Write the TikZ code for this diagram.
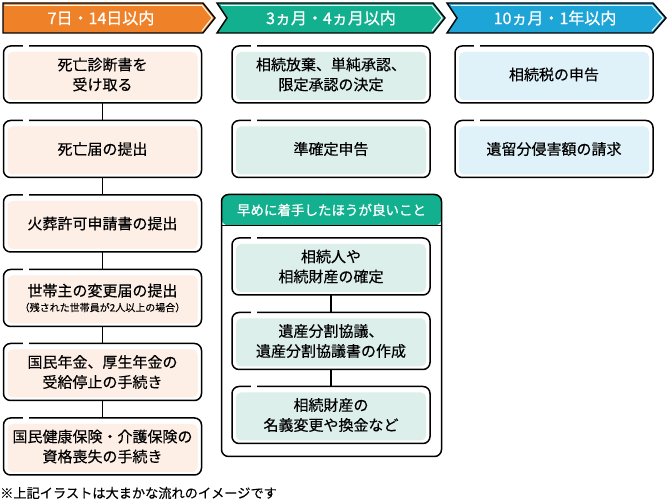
\documentclass[tikz,border=0pt]{standalone}
\usepackage{fontspec}
\setmainfont{Noto Sans CJK JP}[FakeBold=0.3]
\newfontfamily\hdfont{Noto Sans CJK JP}[FakeBold=0.9]
\definecolor{cOr}{HTML}{EF8229}
\definecolor{cGr}{HTML}{12B08F}
\definecolor{cBl}{HTML}{1DA5D8}
\definecolor{fOr}{HTML}{FDEEE6}
\definecolor{fGr}{HTML}{DCEFEA}
\definecolor{fBl}{HTML}{DFF1F9}
\tikzset{
  stepbox/.style={draw=black, line width=1.5pt, fill=white, rounded corners=7pt,
    minimum width=198pt, minimum height=57pt, text width=194pt, align=center,
    inner sep=0pt, outer sep=0pt,
    font=\fontsize{15}{20}\selectfont,
    path picture={\fill[#1, rounded corners=5pt]
      ([shift={(4pt,-6pt)}]path picture bounding box.north west) rectangle
      ([shift={(-4pt,3pt)}]path picture bounding box.south east);}},
  headtext/.style={text=white, font=\hdfont\fontsize{16}{18}\selectfont, inner sep=0pt},
  grpbox/.style={draw=black, line width=1.5pt, fill=white, rounded corners=7pt,
    minimum width=220pt, minimum height=262pt, inner sep=0pt, outer sep=0pt,
    path picture={\fill[cGr] (path picture bounding box.north west) rectangle
      ([yshift=-31pt]path picture bounding box.north east);
      \draw[line width=1.5pt] ([yshift=-31pt]path picture bounding box.north west) --
      ([yshift=-31pt]path picture bounding box.north east);}},
  conn/.style={line width=1.5pt},
  hl/.style={white, line width=1pt},
  outl/.style={black, line width=1.4pt, line join=miter}
}
\begin{document}
\begin{tikzpicture}[x=1pt,y=-1pt]
\useasboundingbox (0,0) rectangle (670,502);
% headers
\fill[cOr] (3,3) -- (203,3) -- (215,18) -- (203,33) -- (3,33) -- cycle;
\draw[hl] (4.5,5.3) -- (202,5.3) -- (212.2,18) -- (202,30.7);
\draw[outl] (3,3) -- (203,3) -- (215,18) -- (203,33) -- (3,33) -- cycle;
\fill[cGr] (217,3) -- (433,3) -- (445,18) -- (433,33) -- (217,33) -- (227,18) -- cycle;
\draw[hl] (221,5.3) -- (432,5.3) -- (442.2,18) -- (432,30.7);
\draw[outl] (217,3) -- (433,3) -- (445,18) -- (433,33) -- (217,33) -- (227,18) -- cycle;
\fill[cBl] (447,3) -- (653,3) -- (666,18) -- (653,33) -- (447,33) -- (457,18) -- cycle;
\draw[hl] (451,5.3) -- (652,5.3) -- (663.2,18) -- (652,30.7);
\draw[outl] (447,3) -- (653,3) -- (666,18) -- (653,33) -- (447,33) -- (457,18) -- cycle;
\node[headtext] (h1) at (101,18) {7日・14日以内};
\node[headtext] (h2) at (331,18) {3ヵ月・4ヵ月以内};
\node[headtext] (h3) at (555,18) {10ヵ月・1年以内};
% column 1
\node[stepbox=fOr] (b1) at (102.5,74.5) {死亡診断書を\\受け取る};
\node[stepbox=fOr] (b2) at (102.5,149) {死亡届の提出};
\node[stepbox=fOr] (b3) at (102.5,223.5) {火葬許可申請書の提出};
\node[stepbox=fOr] (b4) at (102.5,298) {世帯主の変更届の提出\\[-5pt]{\fontsize{10}{11}\selectfont（残された世帯員が2人以上の場合）}};
\node[stepbox=fOr] (b5) at (102.5,372) {国民年金、厚生年金の\\受給停止の手続き};
\node[stepbox=fOr] (b6) at (102.5,446.5) {国民健康保険・介護保険の\\資格喪失の手続き};
\draw[conn] (b1) -- (b2);
\draw[conn] (b2) -- (b3);
\draw[conn] (b3) -- (b4);
\draw[conn] (b4) -- (b5);
\draw[conn] (b5) -- (b6);
% column 2
\node[stepbox=fGr] (c1) at (331,74.5) {相続放棄、単純承認、\\限定承認の決定};
\node[stepbox=fGr] (c2) at (331,149) {準確定申告};
\node[grpbox] (grp) at (331.5,325.5) {};
\node[headtext, font=\hdfont\fontsize{13.5}{15}\selectfont] (gh) at (331.5,210) {早めに着手したほうが良いこと};
\node[stepbox=fGr] (g1) at (331,266.5) {相続人や\\相続財産の確定};
\node[stepbox=fGr] (g2) at (331,341) {遺産分割協議、\\遺産分割協議書の作成};
\node[stepbox=fGr] (g3) at (331,415) {相続財産の\\名義変更や換金など};
\draw[conn] (g1) -- (g2);
\draw[conn] (g2) -- (g3);
% column 3
\node[stepbox=fBl] (d1) at (554,74.5) {相続税の申告};
\node[stepbox=fBl] (d2) at (554,149) {遺留分侵害額の請求};
% gaps in top borders
\foreach \n in {b1,b2,b3,b4,b5,b6,c1,c2,g1,g2,g3,d1,d2}
  \draw[white, line width=2.6pt] ([xshift=19pt]\n.north west) -- ++(6,0);
% note
\node[anchor=west, inner sep=0pt, font=\fontsize{13.2}{15}\selectfont] (note) at (0,493) {※上記イラストは大まかな流れのイメージです};
\end{tikzpicture}
\end{document}
